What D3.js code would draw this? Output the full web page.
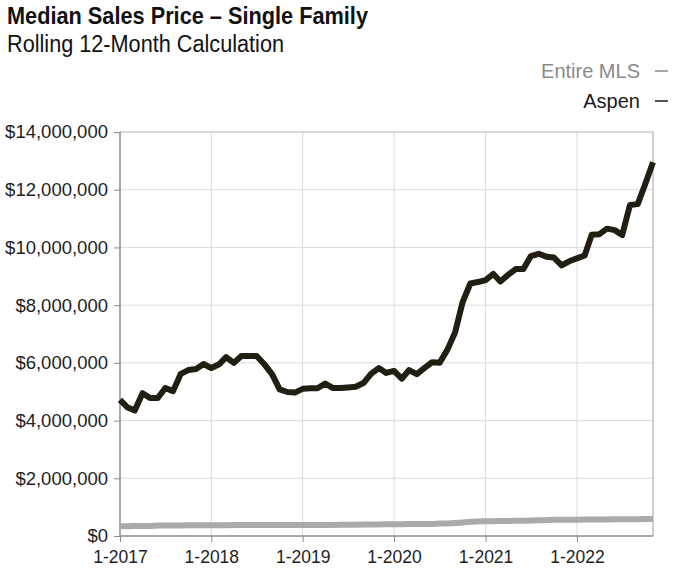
<!DOCTYPE html>
<html>
<head>
<meta charset="utf-8">
<script src="https://cdn.jsdelivr.net/npm/d3@7"></script>
<style>
  body { margin: 0; background: #fff; }
  text { font-family: "Liberation Sans", Arial, sans-serif; }
</style>
</head>
<body>
<div id="chart"></div>
<script>
// monthly values, 1-2017 .. 11-2022
var startMonth = new Date(2017, 0, 1);

var aspen = [
  4.72, 4.45, 4.35, 4.95, 4.78, 4.78, 5.13, 5.02, 5.62, 5.75, 5.79, 5.96,
  5.82, 5.95, 6.20, 6.00, 6.24, 6.24, 6.24, 5.95, 5.60, 5.08, 4.99, 4.97,
  5.10, 5.12, 5.12, 5.28, 5.13, 5.13, 5.15, 5.17, 5.30, 5.62, 5.82, 5.65,
  5.72, 5.45, 5.75, 5.61, 5.82, 6.02, 6.00, 6.45, 7.05, 8.10, 8.75, 8.80,
  8.87, 9.08, 8.82, 9.05, 9.25, 9.25, 9.70, 9.78, 9.68, 9.65, 9.38, 9.52,
  9.62, 9.72, 10.44, 10.46, 10.65, 10.60, 10.43, 11.47, 11.50, 12.20, 12.95
];

var entireMLS = [
  0.34, 0.34, 0.35, 0.35, 0.35, 0.36, 0.36, 0.36, 0.36, 0.37, 0.37, 0.37,
  0.37, 0.37, 0.37, 0.38, 0.38, 0.38, 0.38, 0.38, 0.38, 0.38, 0.38, 0.38,
  0.38, 0.38, 0.38, 0.38, 0.38, 0.39, 0.39, 0.39, 0.40, 0.40, 0.40, 0.41,
  0.41, 0.41, 0.42, 0.42, 0.42, 0.42, 0.43, 0.43, 0.45, 0.47, 0.49, 0.50,
  0.51, 0.51, 0.52, 0.52, 0.53, 0.53, 0.54, 0.55, 0.55, 0.56, 0.56, 0.56,
  0.56, 0.57, 0.57, 0.57, 0.57, 0.58, 0.58, 0.58, 0.58, 0.59, 0.59
];

var yTicks = [0, 2, 4, 6, 8, 10, 12, 14]; // millions
var xTickYears = [2017, 2018, 2019, 2020, 2021, 2022];

var width = 682, height = 584;
var plotLeft = 120, plotRight = 653, plotTop = 132, plotBottom = 536;

var svg = d3.select("#chart").append("svg")
  .attr("width", width)
  .attr("height", height);

var months = aspen.map(function(d, i) { return d3.timeMonth.offset(startMonth, i); });

var x = d3.scaleTime()
  .domain([months[0], months[months.length - 1]])
  .range([plotLeft, plotRight]);

var y = d3.scaleLinear()
  .domain([0, 14])
  .range([plotBottom, plotTop]);

// grid
var xTicks = xTickYears.map(function(yr) { return new Date(yr, 0, 1); });

svg.append("g").selectAll("line")
  .data(xTicks.slice(1))
  .enter().append("line")
  .attr("x1", function(d) { return x(d); })
  .attr("x2", function(d) { return x(d); })
  .attr("y1", plotTop).attr("y2", plotBottom)
  .attr("stroke", "#dcdcdc").attr("stroke-width", 1);

svg.append("g").selectAll("line")
  .data(yTicks.slice(1, -1))
  .enter().append("line")
  .attr("x1", plotLeft).attr("x2", plotRight)
  .attr("y1", function(d) { return y(d); })
  .attr("y2", function(d) { return y(d); })
  .attr("stroke", "#dcdcdc").attr("stroke-width", 1);

// frame top / right
svg.append("line")
  .attr("x1", plotLeft).attr("x2", plotRight).attr("y1", y(14)).attr("y2", y(14))
  .attr("stroke", "#b4b4b4");
svg.append("line")
  .attr("x1", plotRight).attr("x2", plotRight).attr("y1", plotTop).attr("y2", plotBottom)
  .attr("stroke", "#a0a0a0");

// axes
var yAxis = d3.axisLeft(y)
  .tickValues(yTicks)
  .tickSize(6)
  .tickPadding(6)
  .tickFormat(function(d) { return "$" + d3.format(",")(d * 1000000); });

var xAxis = d3.axisBottom(x)
  .tickValues(xTicks)
  .tickSize(6)
  .tickPadding(9)
  .tickFormat(d3.timeFormat("%-m-%Y"));

var gy = svg.append("g")
  .attr("transform", "translate(" + plotLeft + ",0)")
  .call(yAxis);
var gx = svg.append("g")
  .attr("transform", "translate(0," + plotBottom + ")")
  .call(xAxis);

[gx, gy].forEach(function(g) {
  g.select(".domain").attr("stroke", "#8c8c8c").attr("stroke-width", 1.5);
  g.selectAll(".tick line").attr("stroke", "#8c8c8c");
  g.selectAll("text")
    .attr("fill", "#1e1e1e")
    .style("font-family", "'Liberation Sans', Arial, sans-serif");
});
gy.selectAll("text").style("font-size", "18.5px");
gx.selectAll("text").style("font-size", "17.5px");
gy.select(".domain").attr("d", "M0," + plotTop + "V" + plotBottom);
gx.select(".domain").attr("d", "M" + plotLeft + ",0H" + plotRight);

// lines
var line = d3.line()
  .x(function(d, i) { return x(months[i]); })
  .y(function(d) { return y(d); });

svg.append("path")
  .datum(entireMLS)
  .attr("d", line)
  .attr("fill", "none")
  .attr("stroke", "#aaaaaa")
  .attr("stroke-width", 6)
  .attr("stroke-linejoin", "round");

svg.append("path")
  .datum(aspen)
  .attr("d", line)
  .attr("fill", "none")
  .attr("stroke", "#231e12")
  .attr("stroke-width", 6)
  .attr("stroke-linejoin", "round");

// titles
svg.append("text")
  .attr("x", 7).attr("y", 24)
  .attr("textLength", 361)
  .attr("lengthAdjust", "spacingAndGlyphs")
  .style("font-family", "'Liberation Sans Narrow', 'Liberation Sans', Arial, sans-serif")
  .style("font-weight", "bold")
  .style("font-size", "24.5px")
  .attr("fill", "#111")
  .text("Median Sales Price – Single Family");

svg.append("text")
  .attr("x", 7).attr("y", 52)
  .attr("textLength", 277)
  .attr("lengthAdjust", "spacingAndGlyphs")
  .style("font-family", "'Liberation Sans Narrow', 'Liberation Sans', Arial, sans-serif")
  .style("font-size", "23px")
  .attr("fill", "#111")
  .text("Rolling 12-Month Calculation");

// legend
var legendItems = [
  { name: "Entire MLS", color: "#8a8a8a", y: 78 },
  { name: "Aspen", color: "#1a1a1a", y: 108 }
];
var lg = svg.append("g");
legendItems.forEach(function(item) {
  lg.append("text")
    .attr("x", 640).attr("y", item.y)
    .attr("text-anchor", "end")
    .style("font-size", "20px")
    .attr("fill", item.color)
    .text(item.name);
  lg.append("line")
    .attr("x1", 655).attr("x2", 668)
    .attr("y1", item.y - 7).attr("y2", item.y - 7)
    .attr("stroke", item.color)
    .attr("stroke-width", 1.5);
});
</script>
</body>
</html>
